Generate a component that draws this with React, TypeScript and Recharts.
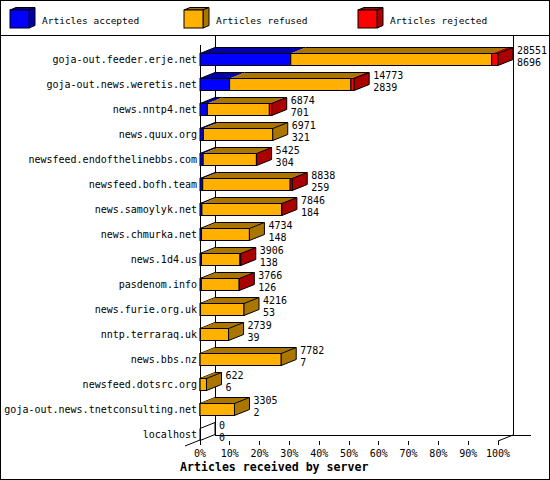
import React from 'react';
import { BarChart, Bar, XAxis, YAxis } from 'recharts';

const hosts = [
  'goja-out.feeder.erje.net',
  'goja-out.news.weretis.net',
  'news.nntp4.net',
  'news.quux.org',
  'newsfeed.endofthelinebbs.com',
  'newsfeed.bofh.team',
  'news.samoylyk.net',
  'news.chmurka.net',
  'news.1d4.us',
  'pasdenom.info',
  'news.furie.org.uk',
  'nntp.terraraq.uk',
  'news.bbs.nz',
  'newsfeed.dotsrc.org',
  'goja-out.news.tnetconsulting.net',
  'localhost',
];
const totals = [28551, 14773, 6874, 6971, 5425, 8838, 7846, 4734, 3906, 3766, 4216, 2739, 7782, 622, 3305, 0];
const accepted = [8696, 2839, 701, 321, 304, 259, 184, 148, 138, 126, 53, 39, 7, 6, 2, 0];
const refused = [19255, 11614, 5943, 6650, 5101, 8379, 7642, 4586, 3688, 3630, 4163, 2700, 7775, 616, 3303, 0];
const rejected = [600, 320, 230, 0, 20, 200, 20, 0, 80, 10, 0, 0, 0, 0, 0, 0];
const pctTicks = [0, 10, 20, 30, 40, 50, 60, 70, 80, 90, 100];

const seriesKeys = ['accepted', 'refused', 'rejected'];
const seriesNames = ['Articles accepted', 'Articles refused', 'Articles rejected'];
const frontColors = ['#0000ff', '#ffb000', '#ff0000'];
const shadeColors = ['#0000aa', '#ab7600', '#aa0000'];

const W = 550;
const H = 480;
const DX = 15;
const DY = 6;
const PLOT_LEFT = 200;
const PLOT_RIGHT = 498;
const PLOT_TOP = 46.5;
const PLOT_BOTTOM = 446.5;
const FLOOR_Y = 441;
const BACK_FLOOR_Y = 435;
const FONT = '"DejaVu Sans Mono", monospace';

const maxTotal = Math.max(...totals);
const data = hosts.map((name, i) => ({
  name,
  total: totals[i],
  acc: accepted[i],
  accepted: (accepted[i] / maxTotal) * 100,
  refused: (refused[i] / maxTotal) * 100,
  rejected: (rejected[i] / maxTotal) * 100,
}));

const ValueLabels = ({ x, y, row }: any) => (
  <g fontFamily={FONT} fontSize={10} fill="#000">
    <text x={x} y={y - 3.5} dominantBaseline="central">{row.total}</text>
    <text x={x} y={y + 8.5} dominantBaseline="central">{row.acc}</text>
  </g>
);

const makeShape = (idx: number) => (props: any) => {
  const { x, y, width, height, payload } = props;
  const key = seriesKeys[idx];
  const last = seriesKeys.filter((k) => payload[k] > 0).pop();
  const w = Math.max(0, width || 0);
  const h = height;

  // empty row: draw a flat box on the axis
  if (!last) {
    if (idx !== 0) return <g />;
    return (
      <g stroke="#000" strokeWidth={1}>
        <line x1={x} y1={y} x2={x} y2={y + h} />
        <line x1={x} y1={y} x2={x + DX} y2={y - DY} />
        <line x1={x} y1={y + h} x2={x + DX} y2={y + h - DY} />
        <line x1={x + DX} y1={y - DY} x2={x + DX} y2={y + h - DY} />
        <g stroke="none">
          <ValueLabels x={x + DX + 4} y={y} row={payload} />
        </g>
      </g>
    );
  }
  if (payload[key] <= 0) return <g />;

  return (
    <g>
      <polygon
        points={`${x},${y} ${x + DX},${y - DY} ${x + w + DX},${y - DY} ${x + w},${y}`}
        fill={shadeColors[idx]}
      />
      <rect x={x} y={y} width={w} height={h} fill={frontColors[idx]} stroke="#000" strokeWidth={1} />
      <line x1={x + DX} y1={y - DY} x2={x + w + DX} y2={y - DY} stroke="#000" />
      {idx === 0 && <line x1={x} y1={y} x2={x + DX} y2={y - DY} stroke="#000" />}
      {key === last && (
        <g>
          <polygon
            points={`${x + w},${y} ${x + w + DX},${y - DY} ${x + w + DX},${y + h - DY} ${x + w},${y + h}`}
            fill={shadeColors[idx]}
            stroke="#000"
            strokeWidth={1}
          />
          <ValueLabels x={x + w + DX + 4} y={y} row={payload} />
        </g>
      )}
    </g>
  );
};

const PctTick = ({ x, payload }: any) => (
  <g>
    <line x1={x} y1={FLOOR_Y} x2={x} y2={FLOOR_Y + 4} stroke="#000" shapeRendering="crispEdges" />
    <text x={x} y={453} textAnchor="middle" dominantBaseline="central" fontFamily={FONT} fontSize={10} fill="#000">
      {`${payload.value}%`}
    </text>
  </g>
);

const Frame = () => (
  <svg width={W} height={H} style={{ position: 'absolute', left: 0, top: 0 }}>
    <rect x={0.5} y={0.5} width={W - 1} height={H - 1} fill="#fff" stroke="#000" />
    <line x1={0} y1={35.5} x2={W} y2={35.5} stroke="#000" />
    {seriesNames.map((name, i) => {
      const lx = 10 + i * 174;
      return (
        <g key={name}>
          <polygon points={`${lx},10 ${lx + 6},7.5 ${lx + 25},7.5 ${lx + 19},10`} fill={shadeColors[i]} stroke="#000" />
          <polygon points={`${lx + 19},10 ${lx + 25},7.5 ${lx + 25},25.5 ${lx + 19},28`} fill={shadeColors[i]} stroke="#000" />
          <rect x={lx} y={10} width={19} height={18} fill={frontColors[i]} stroke="#000" />
          <text x={lx + 32} y={20} dominantBaseline="central" fontFamily={FONT} fontSize={9.5} fill="#000">
            {name}
          </text>
        </g>
      );
    })}
    <g stroke="#000" shapeRendering="crispEdges">
      <line x1={PLOT_LEFT + DX + 0.5} y1={35} x2={PLOT_LEFT + DX + 0.5} y2={BACK_FLOOR_Y} />
      <line x1={PLOT_RIGHT + DX + 0.5} y1={35} x2={PLOT_RIGHT + DX + 0.5} y2={BACK_FLOOR_Y} />
      <line x1={PLOT_LEFT + DX} y1={BACK_FLOOR_Y + 0.5} x2={531} y2={BACK_FLOOR_Y + 0.5} />
      <line x1={PLOT_LEFT + 0.5} y1={45} x2={PLOT_LEFT + 0.5} y2={FLOOR_Y} />
    </g>
    <g stroke="#000">
      <line x1={PLOT_LEFT - DX} y1={FLOOR_Y + 5} x2={PLOT_LEFT} y2={FLOOR_Y - 1} />
      <line x1={PLOT_RIGHT} y1={FLOOR_Y} x2={PLOT_RIGHT + DX} y2={BACK_FLOOR_Y} />
    </g>
    <text x={180} y={467} dominantBaseline="central" fontFamily={FONT} fontSize={11.6} fontWeight="bold" fill="#000">
      Articles received by server
    </text>
  </svg>
);

export default function App() {
  return (
    <div style={{ position: 'relative', width: W, height: H }}>
      <style>{'body{margin:0}'}</style>
      <Frame />
      <div style={{ position: 'absolute', left: 0, top: 0 }}>
        <BarChart
          width={W}
          height={H}
          data={data}
          layout="vertical"
          margin={{ top: PLOT_TOP, right: W - PLOT_RIGHT, bottom: 0, left: 0 }}
          barSize={12}
        >
          <XAxis
            type="number"
            domain={[0, 100]}
            ticks={pctTicks}
            axisLine={false}
            tickLine={false}
            height={H - PLOT_BOTTOM}
            tick={<PctTick />}
            interval={0}
          />
          <YAxis
            type="category"
            dataKey="name"
            width={PLOT_LEFT}
            axisLine={false}
            tickLine={false}
            tickSize={3}
            tickMargin={0}
            interval={0}
            tick={{ fontFamily: FONT, fontSize: 10, fill: '#000' }}
          />
          {seriesKeys.map((k, i) => (
            <Bar
              key={k}
              dataKey={k}
              name={seriesNames[i]}
              stackId="a"
              fill={frontColors[i]}
              shape={makeShape(i)}
              isAnimationActive={false}
            />
          ))}
        </BarChart>
      </div>
    </div>
  );
}
